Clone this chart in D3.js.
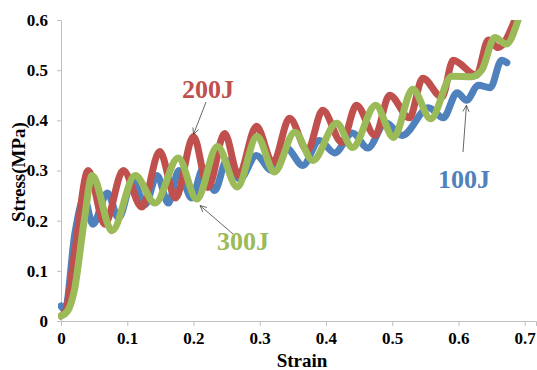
<!DOCTYPE html>
<html>
<head>
<meta charset="utf-8">
<script src="https://cdn.jsdelivr.net/npm/d3@7"></script>
<style>
  body { margin: 0; background: #fff; }
  text { font-family: "Liberation Serif", "Times New Roman", serif; font-weight: bold; }
</style>
</head>
<body>
<div id="chart"></div>
<script>
// stress-strain curves, [strain, stress] read at turning points
const blue100 = [[0,0.03],[0.006,0.022],[0.021,0.175],[0.035,0.245],[0.048,0.193],[0.07,0.255],[0.087,0.205],[0.108,0.28],[0.127,0.232],[0.145,0.29],[0.162,0.235],[0.178,0.30],[0.197,0.245],[0.215,0.305],[0.232,0.26],[0.25,0.32],[0.27,0.283],[0.295,0.33],[0.318,0.30],[0.34,0.345],[0.365,0.31],[0.39,0.36],[0.413,0.335],[0.44,0.375],[0.463,0.345],[0.49,0.395],[0.515,0.37],[0.555,0.425],[0.577,0.405],[0.598,0.455],[0.612,0.44],[0.63,0.47],[0.648,0.465],[0.665,0.52],[0.673,0.515]]
const red200 = [[0,0.01],[0.007,0.02],[0.021,0.14],[0.041,0.30],[0.066,0.193],[0.094,0.30],[0.122,0.227],[0.149,0.338],[0.173,0.245],[0.2,0.368],[0.222,0.266],[0.247,0.374],[0.268,0.29],[0.295,0.388],[0.32,0.315],[0.345,0.404],[0.372,0.34],[0.395,0.42],[0.424,0.356],[0.446,0.43],[0.474,0.37],[0.496,0.45],[0.526,0.405],[0.546,0.484],[0.575,0.446],[0.592,0.52],[0.627,0.49],[0.645,0.56],[0.66,0.545],[0.685,0.6]]
const green300 = [[0,0.01],[0.01,0.02],[0.02,0.06],[0.035,0.2],[0.047,0.29],[0.077,0.18],[0.112,0.29],[0.142,0.235],[0.177,0.325],[0.205,0.243],[0.236,0.348],[0.266,0.267],[0.296,0.368],[0.322,0.297],[0.353,0.376],[0.38,0.32],[0.416,0.394],[0.44,0.346],[0.475,0.43],[0.502,0.366],[0.531,0.462],[0.558,0.403],[0.59,0.488],[0.62,0.487],[0.635,0.5],[0.655,0.565],[0.672,0.552],[0.69,0.6]]

const xTicks = [0,0.1,0.2,0.3,0.4,0.5,0.6,0.7]
const yTicks = [0,0.1,0.2,0.3,0.4,0.5,0.6]

const series = [
  {name:"100J", data: blue100, color:"#4f81bd"},
  {name:"200J", data: red200, color:"#c0504d"},
  {name:"300J", data: green300, color:"#9bbb59"}
]

let width = 537
let height = 370

const svg = d3.select("#chart").append("svg")
  .attr("width", width)
  .attr("height", height)

const x = d3.scaleLinear().domain([0, 0.717]).range([61, 536])
const y = d3.scaleLinear().domain([0, 0.6]).range([321, 20])

// clip so the curves stop at the top of the plot
svg.append("clipPath").attr("id","plot")
  .append("rect").attr("x", 58).attr("y", 20).attr("width", 479).attr("height", 304)

// axes
const xAxis = svg.append("g")
  .attr("transform", "translate(0,321)")
  .call(d3.axisBottom(x).tickValues(xTicks).tickSize(5).tickPadding(6).tickFormat(d => d === 0 ? "0" : d3.format(".1f")(d)))
const yAxis = svg.append("g")
  .attr("transform", "translate(61,0)")
  .call(d3.axisLeft(y).tickValues(yTicks).tickSize(4).tickPadding(9).tickFormat(d => d === 0 ? "0" : d3.format(".1f")(d)))

for (const ax of [xAxis, yAxis]) {
  ax.select(".domain").attr("stroke", "#bfbfbf")
  ax.selectAll(".tick line").attr("stroke", "#bfbfbf")
  ax.selectAll(".tick text")
    .attr("fill", "#000")
    .style("font-family", "'Liberation Serif', serif")
    .style("font-weight", "bold")
    .style("font-size", "17px")
}

// curves
const line = d3.line()
  .x(d => x(d[0]))
  .y(d => y(d[1]))
  .curve(d3.curveMonotoneX)

svg.append("g").attr("clip-path", "url(#plot)")
  .selectAll("path")
  .data(series)
  .join("path")
    .attr("fill", "none")
    .attr("stroke", d => d.color)
    .attr("stroke-width", 7)
    .attr("stroke-linejoin", "round")
    .attr("stroke-linecap", "round")
    .attr("d", d => line(d.data))

// axis titles
svg.append("text")
  .attr("x", 302).attr("y", 367)
  .attr("text-anchor", "middle")
  .style("font-size", "19px")
  .text("Strain")

svg.append("text")
  .attr("transform", "translate(25,172) rotate(-90)")
  .attr("text-anchor", "middle")
  .style("font-size", "19px")
  .text("Stress(MPa)")

// callouts with arrows
const notes = [
  {text:"200J", color:"#c0504d", tx:208, ty:98, from:[206,102], to:[0.2, 0.372]},
  {text:"300J", color:"#9bbb59", tx:243, ty:250, from:[233,234], to:[0.21, 0.23]},
  {text:"100J", color:"#4f81bd", tx:464, ty:188, from:[463,152], to:[0.612, 0.43]}
]

for (const n of notes) {
  const ex = x(n.to[0]), ey = y(n.to[1])
  svg.append("line")
    .attr("x1", n.from[0]).attr("y1", n.from[1])
    .attr("x2", ex).attr("y2", ey)
    .attr("stroke", "#404040").attr("stroke-width", 0.8)
  const ang = Math.atan2(ey - n.from[1], ex - n.from[0])
  const L = 7, spread = 0.45
  const pts = [
    [ex - L*Math.cos(ang - spread), ey - L*Math.sin(ang - spread)],
    [ex, ey],
    [ex - L*Math.cos(ang + spread), ey - L*Math.sin(ang + spread)]
  ]
  svg.append("polyline")
    .attr("points", pts.map(p => p.join(",")).join(" "))
    .attr("fill", "none").attr("stroke", "#404040").attr("stroke-width", 0.8)
  svg.append("text")
    .attr("x", n.tx).attr("y", n.ty)
    .attr("text-anchor", "middle")
    .attr("fill", n.color)
    .style("font-size", "26px")
    .text(n.text)
}
</script>
</body>
</html>
